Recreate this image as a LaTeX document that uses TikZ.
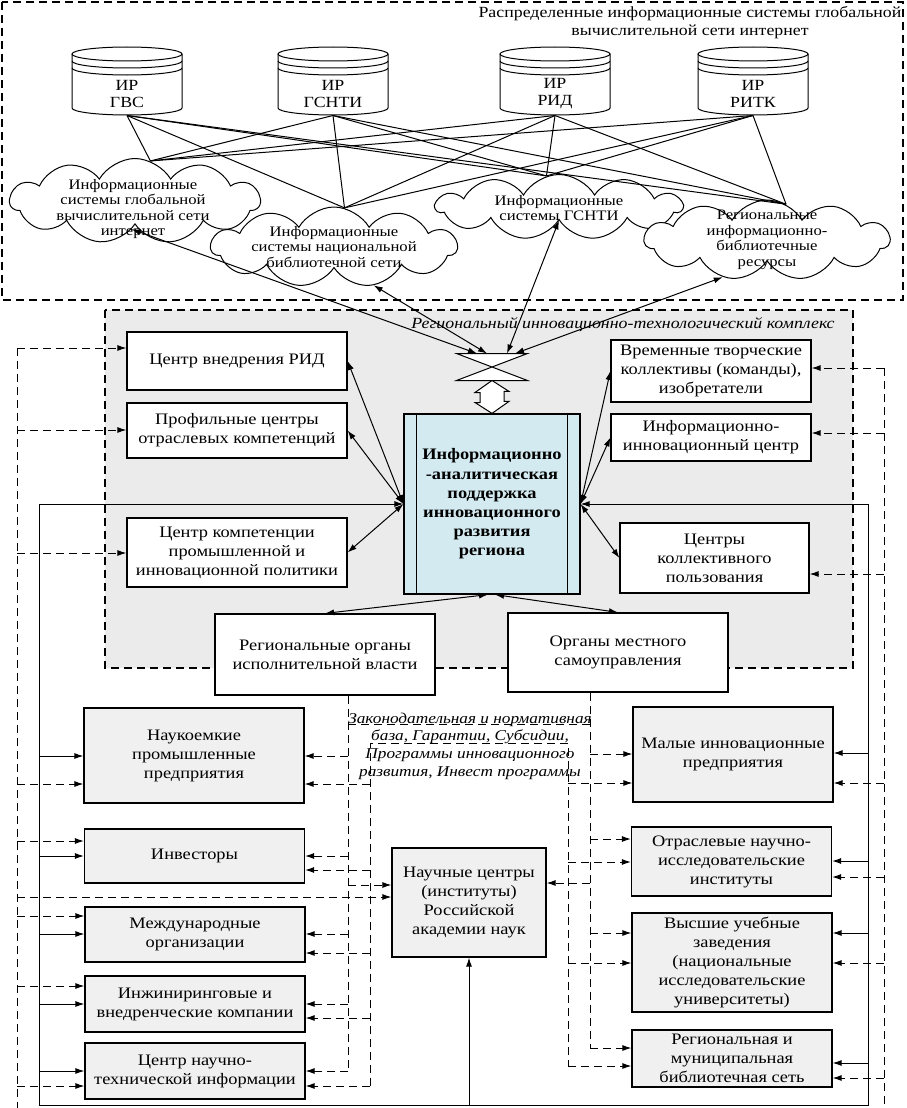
\documentclass[tikz,border=0pt]{standalone}
\usepackage{fontspec}
\setmainfont{Liberation Serif}[FakeStretch=1.15]
\usetikzlibrary{arrows.meta,shapes.symbols}
\definecolor{iapblue}{HTML}{D2EAF0}

\begin{document}
\begin{tikzpicture}[x=1pt,y=-1pt,line width=1pt,
  box/.style={draw,line width=1.2pt,fill=white,align=center,inner sep=1pt,font=\fontsize{16}{19}\selectfont},
  gbox/.style={box,fill=black!6},
  cld/.style={draw,cloud,cloud puffs=11,cloud puff arc=120,cloud ignores aspect,fill=white,inner sep=0pt},
  cldtext/.style={align=center,font=\fontsize{14.5}{15.5}\selectfont},
  disk/.style={minimum width=110pt,minimum height=42pt,inner sep=0pt,align=center,font=\fontsize{15.5}{17}\selectfont},
  tip/.style={-{Latex[length=9pt,width=6pt]}},
  duo/.style={{Latex[length=9pt,width=6pt]}-{Latex[length=9pt,width=6pt]}},
  dsh/.style={dash pattern=on 8pt off 5pt}]
\useasboundingbox (0,0) rectangle (906,1108);

\draw[dsh,line width=1.2pt] (2,2) rectangle (903,300);
\node[font=\fontsize{15.5}{18}\selectfont,align=center] (ttl) at (690,23) {Распределенные информационные системы глобальной\\вычислительной сети интернет};

\foreach \n/\cx/\lbl in {g1/127/ГВС,g2/333/ГСНТИ,g3/555/РИД,g4/753/РИТК}{
  \draw[fill=white] (\cx-55,54) -- (\cx-55,108) arc[start angle=180,end angle=0,x radius=55,y radius=7] -- (\cx+55,54);
  \draw[fill=white] (\cx,54) ellipse[x radius=55,y radius=7];
  \draw (\cx-55,61) arc[start angle=180,end angle=0,x radius=55,y radius=7];
  \draw (\cx-55,68) arc[start angle=180,end angle=0,x radius=55,y radius=7];
  \node[disk] (\n) at (\cx,94) {ИР\\\lbl};
}

\node[cld,minimum width=250pt,minimum height=85pt] (c1) at (135,201) {};
\node[cld,minimum width=246pt,minimum height=80pt] (c2) at (334,247) {};
\node[cld,minimum width=246pt,minimum height=65pt] (c3) at (559,207) {};
\node[cld,minimum width=245pt,minimum height=80pt] (c4) at (767,240) {};
\node[cldtext] (c1t) at (133,209) {Информационные\\системы глобальной\\вычислительной сети\\интернет};
\node[cldtext] (c2t) at (334,247) {Информационные\\системы национальной\\библиотечной сети};
\node[cldtext] (c3t) at (559,208) {Информационные\\системы ГСНТИ};
\node[cldtext] (c4t) at (767,240) {Региональные\\информационно-\\библиотечные\\ресурсы};

\foreach \g in {g1,g2,g3,g4}
  \foreach \cl/\a in {c1/69,c2/75,c3/112,c4/62}
    \draw (\g.south) -- (\cl.\a);

\draw[dsh,line width=1.2pt,fill=black!8] (105,310) rectangle (853,668);
\node[font=\fontsize{15.5}{18}\selectfont\itshape] (rtk) at (623,325) {Региональный инновационно-технологический комплекс};

\node[minimum width=70pt,minimum height=26pt,inner sep=0pt] (coll) at (492,367) {};
\draw[fill=white] (coll.north west) -- (coll.north east) -- (coll.south west) -- (coll.south east) -- cycle;
\draw[duo] (c1.263) -- ([xshift=-15pt]coll.north);
\draw[duo] (c2.-44) -- ([xshift=-5pt]coll.north);
\draw[duo] (c3.south) -- ([xshift=15pt]coll.north);
\draw[duo] (c4.220) -- ([xshift=23pt]coll.north);

\node[box,minimum width=220pt,minimum height=58pt] (rid) at (237,361) {Центр внедрения РИД};
\node[box,minimum width=220pt,minimum height=55pt] (prof) at (237,430.5) {Профильные центры\\отраслевых компетенций};
\node[box,minimum width=220pt,minimum height=69pt] (komp) at (237,552.5) {Центр компетенции\\промышленной и\\инновационной политики};
\node[box,minimum width=220pt,minimum height=81pt] (rorg) at (325,654.5) {Региональные органы\\исполнительной власти};
\node[box,minimum width=176pt,minimum height=180pt,fill=iapblue,font=\fontsize{16}{19.2}\selectfont\bfseries] (iap) at (492,504) {Информационно\\-аналитическая\\поддержка\\инновационного\\развития\\региона};
\draw ([xshift=13pt]iap.north west) -- ([xshift=13pt]iap.south west);
\draw ([xshift=-13pt]iap.north east) -- ([xshift=-13pt]iap.south east);
\node[box,minimum width=200pt,minimum height=62pt] (vtk) at (711,371) {Временные творческие\\коллективы (команды),\\изобретатели};
\node[box,minimum width=200pt,minimum height=47pt] (iic) at (711,437.5) {Информационно-\\инновационный центр};
\node[box,minimum width=189pt,minimum height=70pt] (ckp) at (714.5,558) {Центры\\коллективного\\пользования};
\node[box,minimum width=220pt,minimum height=79pt] (oms) at (618,652.5) {Органы местного\\самоуправления};

\draw[fill=white] (coll.south) -- ++(-17,12) -- ++(5,0) -- ++(0,10) -- ++(-5,0) -- (iap.north) -- ++(17,-12) -- ++(-5,0) -- ++(0,-10) -- ++(5,0) -- cycle;

\draw[duo] (iap.west) -- (rid.east);
\draw[duo] (iap.west) -- (prof.east);
\draw[duo] (iap.west) -- (komp.east);
\draw[duo] (iap.east) -- (vtk.west);
\draw[duo] (iap.east) -- (iic.west);
\draw[duo] (iap.east) -- (ckp.west);
\draw[duo] ([xshift=-4pt]iap.south) -- (rorg.north);
\draw[duo] ([xshift=3pt]iap.south) -- (oms.north);

\node[gbox,minimum width=220pt,minimum height=95pt] (nauk) at (194,755.5) {Наукоемкие\\промышленные\\предприятия};
\node[gbox,minimum width=220pt,minimum height=54pt] (inv) at (194.5,856) {Инвесторы};
\node[gbox,minimum width=220pt,minimum height=55pt] (mezh) at (195,934.5) {Международные\\организации};
\node[gbox,minimum width=220pt,minimum height=56pt] (inzh) at (195,1004) {Инжиниринговые и\\внедренческие компании};
\node[gbox,minimum width=220pt,minimum height=56pt] (cnti) at (195,1071) {Центр научно-\\технической информации};
\node[gbox,minimum width=200pt,minimum height=95pt] (malye) at (733,754.5) {Малые инновационные\\предприятия};
\node[gbox,minimum width=200pt,minimum height=69pt] (otr) at (731.5,861.5) {Отраслевые научно-\\исследовательские\\институты};
\node[gbox,minimum width=200pt,minimum height=99pt] (vuz) at (732,962.5) {Высшие учебные\\заведения\\(национальные\\исследовательские\\университеты)};
\node[gbox,minimum width=200pt,minimum height=57pt] (bib) at (732,1058.5) {Региональная и\\муниципальная\\библиотечная сеть};
\node[gbox,minimum width=154pt,minimum height=109pt] (nauch) at (469,902.5) {Научные центры\\(институты)\\Российской\\академии наук};
\node[font=\fontsize{15}{17.7}\selectfont\itshape,align=center] (lex) at (470,746) {Законодательная и нормативная\\база, Гарантии, Субсидии,\\Программы инновационного\\развития, Инвест программы};

\coordinate (dl) at (17,1108);
\coordinate (sl) at (39,1105);
\coordinate (sr) at (868,1105);
\coordinate (dr) at (884,1108);
\coordinate (bl1) at (348,1071);
\coordinate (bl2) at (370,1086);
\coordinate (br1) at (590,1048);
\coordinate (br2) at (568,1066);

\draw[duo] (iap.west) -- (sl |- iap.west) -- (sl) -- (sr) -- (sr |- iap.east) -- (iap.east);
\draw[tip] (nauch.south |- sl) -- (nauch.south);
\foreach \n/\y in {nauk/756,inv/856,mezh/934,inzh/1004,cnti/1071}
  \draw[tip] (sl |- 0,\y) -- (\n.west |- 0,\y);
\foreach \n/\y in {malye/753,otr/861,vuz/933,bib/1063}
  \draw[tip] (sr |- 0,\y) -- (\n.east |- 0,\y);

\draw[dsh] (dl |- 0,348) -- (dl);
\draw[dsh] (dr |- 0,368) -- (dr);
\foreach \n/\y in {rid/348,prof/430,komp/553,nauk/784,inv/841,nauch/897,mezh/916,inzh/986,cnti/1086}
  \draw[dsh,tip] (dl |- 0,\y) -- (\n.west |- 0,\y);
\foreach \n/\y in {vtk/368,iic/433,ckp/574,malye/783,otr/877,vuz/963,bib/1078}
  \draw[dsh,tip] (dr |- 0,\y) -- (\n.east |- 0,\y);

\draw[dsh] (bl1 |- rorg.south) -- (bl1);
\draw[dsh] (br1 |- oms.south) -- (br1);
\draw[dsh] (bl1 |- 0,724) -- (br1 |- 0,724);
\draw[dsh] (bl2) -- (bl2 |- 0,743) -- (br2 |- 0,743) -- (br2);
\foreach \n/\ya/\yb in {nauk/756/784,inv/856/870,mezh/934/953,inzh/1004/1018,cnti/1071/1086}{
  \draw[dsh,tip] (bl1 |- 0,\ya) -- (\n.east |- 0,\ya);
  \draw[dsh,tip] (bl2 |- 0,\yb) -- (\n.east |- 0,\yb);
}
\foreach \n/\ya/\yb in {malye/754/783,otr/839/862,vuz/933/963,bib/1048/1066}{
  \draw[dsh,tip] (br1 |- 0,\ya) -- (\n.west |- 0,\ya);
  \draw[dsh,tip] (br2 |- 0,\yb) -- (\n.west |- 0,\yb);
}
\draw[dsh,tip] (bl1 |- 0,885) -- (nauch.west |- 0,885);
\draw[dsh,tip] (br1 |- 0,883) -- (nauch.east |- 0,883);
\end{tikzpicture}
\end{document}
